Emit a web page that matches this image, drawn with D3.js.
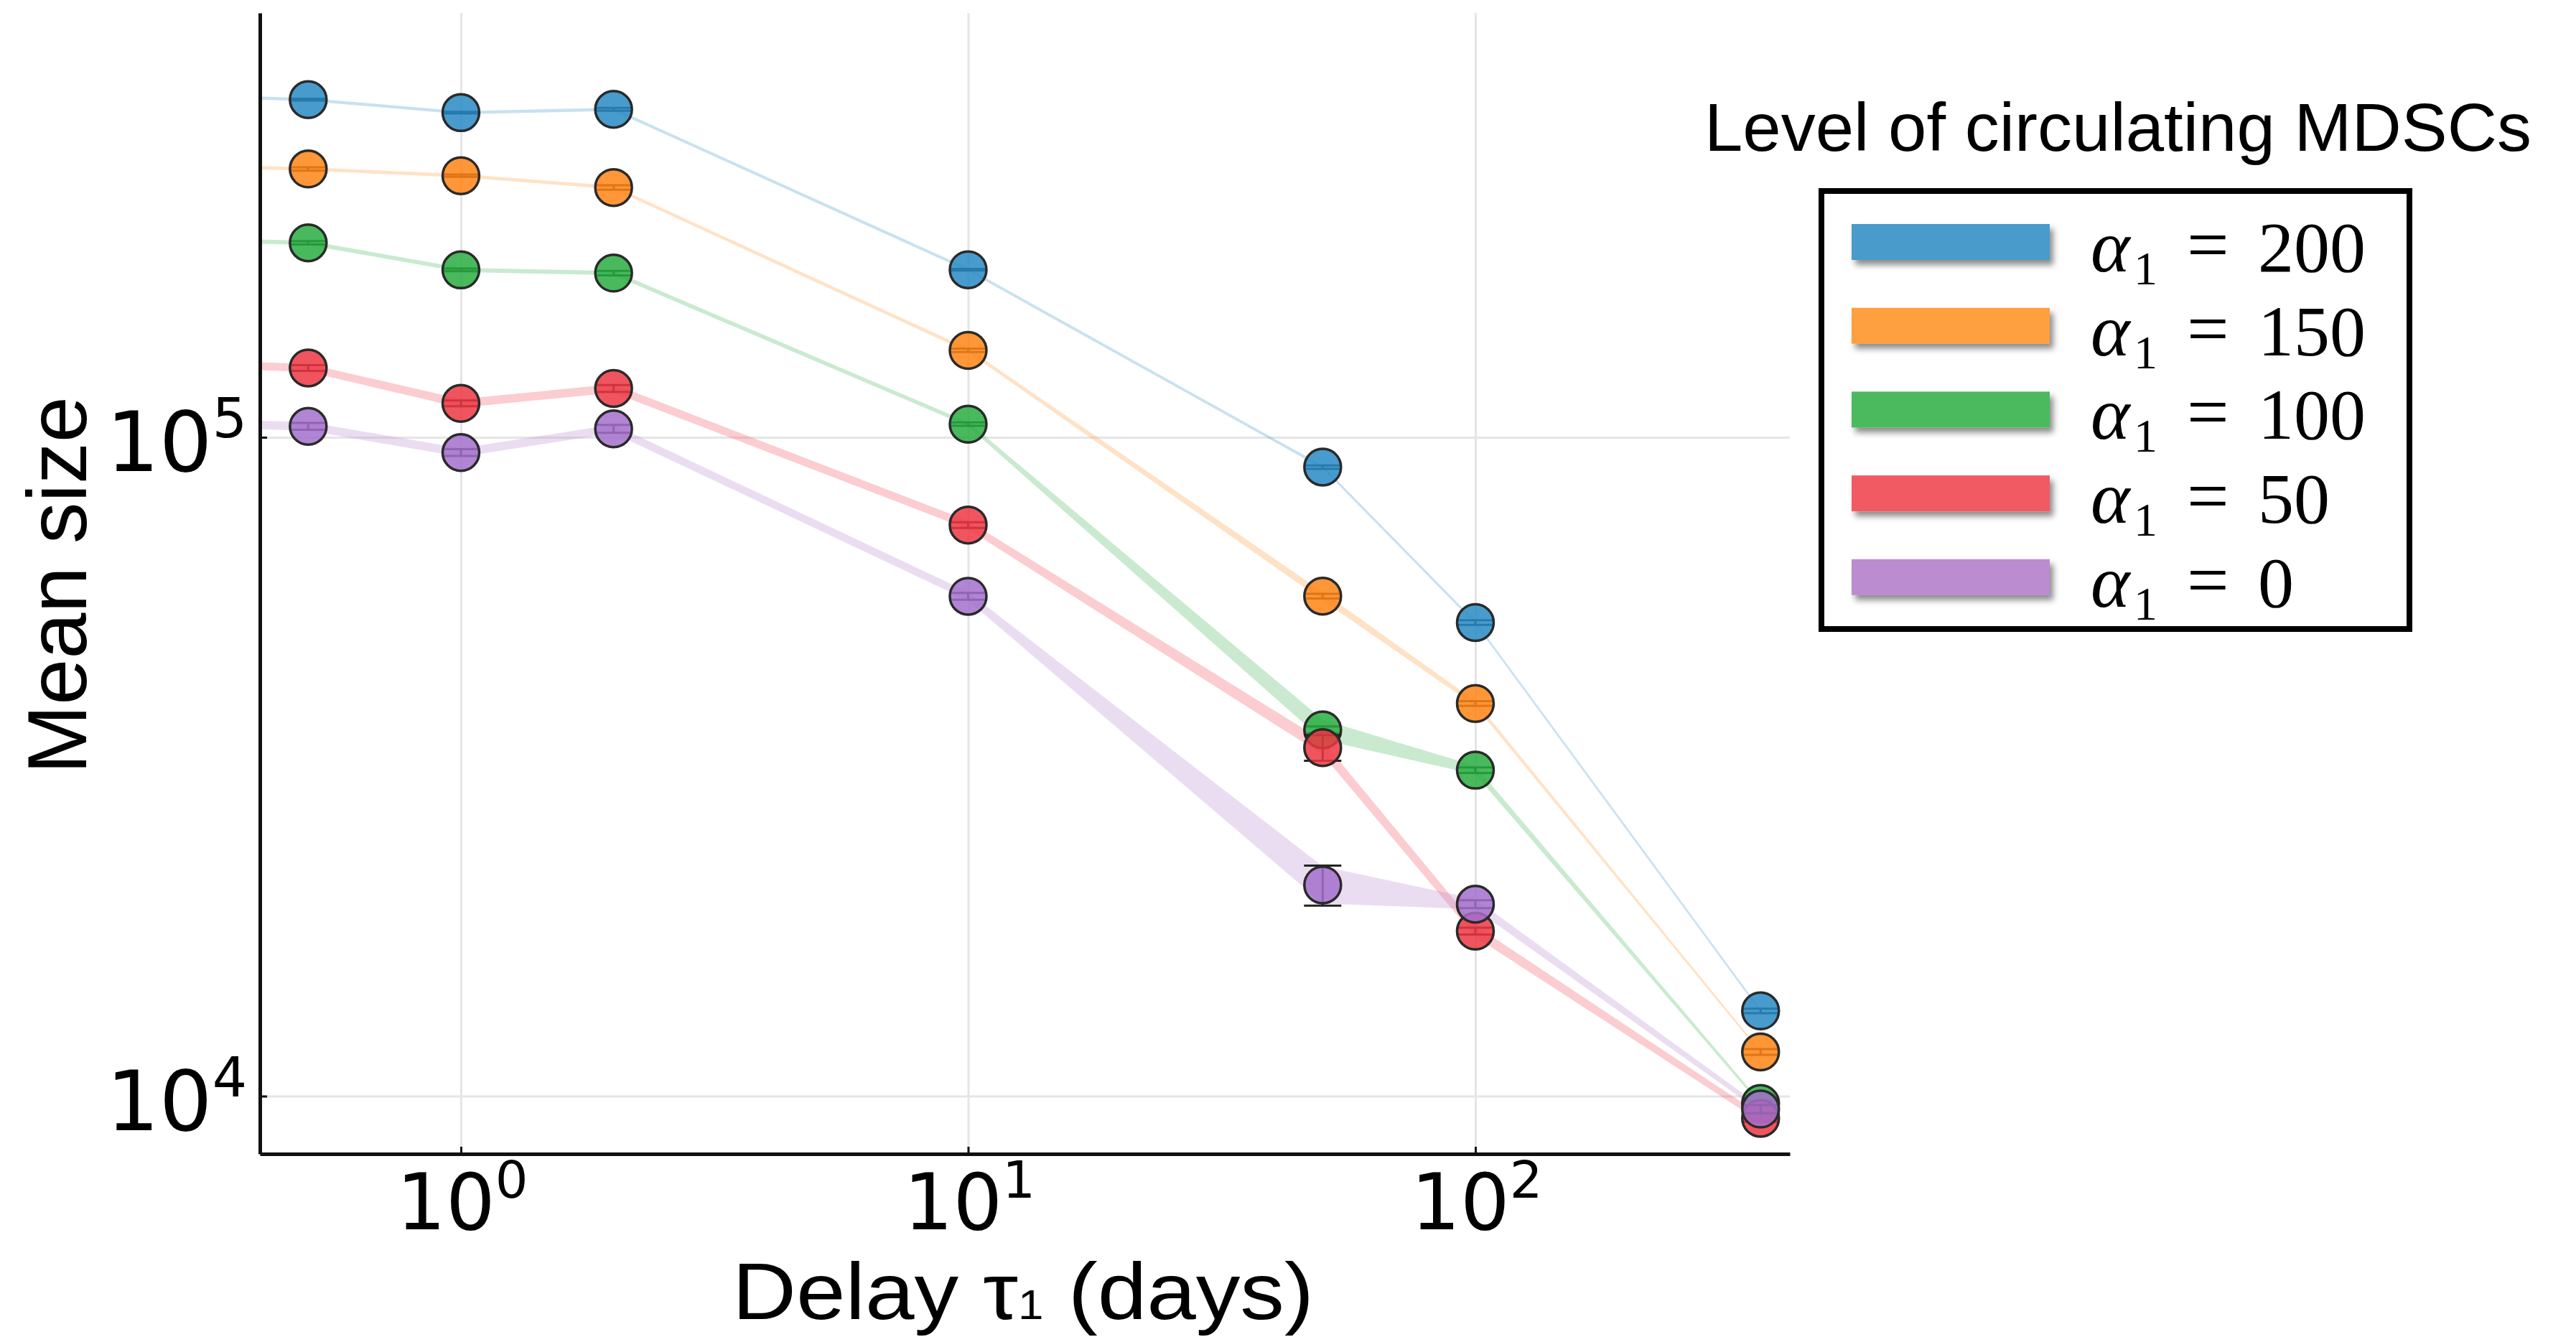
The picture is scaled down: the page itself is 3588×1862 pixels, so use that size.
<!DOCTYPE html>
<html>
<head>
<meta charset="utf-8">
<script src="https://cdn.jsdelivr.net/npm/d3@7"></script>
<style>
  html, body { margin: 0; padding: 0; background: #fff; }
  svg { display: block; }
</style>
</head>
<body>
<div id="chart"></div>
<script>
// delays (days); 0.25 sits left of the axis, only its line shows
var taus = [0.25, 0.5, 1, 2, 10, 50, 100, 365];

var seriesNames = ["200", "150", "100", "50", "0"];
var seriesColors = ["#4A9BCB", "#FE9F41", "#4BBA5E", "#F25A64", "#BB8DD0"];
var markerColors = ["#2889c4", "#ff8414", "#28ad3f", "#ed3743", "#a46ecc"];

// mean size for each alpha_1
var size200 = [331000, 325500, 311000, 314600, 179600, 90100, 52330, 13470];
var size150 = [259000, 255400, 249500, 239400, 135500, 57400, 39440, 11670];
var size100 = [200000, 197300, 179500, 177500, 104700, 35970, 31240, 9745];
var size50  = [130000, 127400, 112600, 118600, 73600, 33800, 17800, 9251];
var size0   = [105500, 103900, 94800, 103000, 57370, 20920, 19560, 9557];

// relative spread of the shaded band
var band200 = [0.0055, 0.0055, 0.0055, 0.0055, 0.0055, 0.0055, 0.0055, 0.0055];
var band150 = [0.006, 0.006, 0.006, 0.006, 0.0065, 0.015, 0.009, 0.005];
var band100 = [0.0075, 0.0075, 0.0075, 0.0075, 0.0075, 0.036, 0.015, 0.006];
var band50  = [0.014, 0.014, 0.015, 0.015, 0.015, 0.025, 0.02, 0.0125];
var band0   = [0.015, 0.015, 0.015, 0.015, 0.015, 0.067, 0.018, 0.01];

// relative error bars
var err200 = [0.003, 0.003, 0.003, 0.005, 0.003, 0.006, 0.008, 0.008];
var err150 = [0.006, 0.006, 0.004, 0.008, 0.006, 0.008, 0.008, 0.01];
var err100 = [0.006, 0.006, 0.005, 0.008, 0.006, 0.012, 0.01, 0.01];
var err50  = [0.01, 0.01, 0.01, 0.012, 0.01, 0.045, 0.012, 0.012];
var err0   = [0.012, 0.012, 0.012, 0.014, 0.012, 0.07, 0.014, 0.014];

var xTicks = [1, 10, 100];
var xTickExp = ["0", "1", "2"];
var yTicks = [1e4, 1e5];
var yTickExp = ["4", "5"];

var sizes = [size200, size150, size100, size50, size0];
var bands = [band200, band150, band100, band50, band0];
var errs = [err200, err150, err100, err50, err0];

var svgWidth = 3588, svgHeight = 1862;
var margin = {top: 18, left: 362, right: 3588 - 2493, bottom: 1862 - 1607};
var width = svgWidth - margin.left - margin.right;
var height = svgHeight - margin.top - margin.bottom;

var svg = d3.select("#chart").append("svg")
  .attr("width", svgWidth)
  .attr("height", svgHeight);

var defs = svg.append("defs");
defs.append("clipPath").attr("id", "plotclip")
  .append("rect").attr("x", 0).attr("y", 0).attr("width", width).attr("height", height);
var shadow = defs.append("filter").attr("id", "shadow")
  .attr("x", "-20%").attr("y", "-50%").attr("width", "140%").attr("height", "220%");
shadow.append("feDropShadow")
  .attr("dx", 5).attr("dy", 7).attr("stdDeviation", 4)
  .attr("flood-color", "#000").attr("flood-opacity", 0.45);

var chartGroup = svg.append("g")
  .attr("transform", `translate(${margin.left}, ${margin.top})`);

// log scales
var xScale = d3.scaleLog()
  .domain([Math.pow(10, -0.3963), Math.pow(10, 2.620)])
  .range([0, width]);
var yScale = d3.scaleLog()
  .domain([Math.pow(10, 3.9123), Math.pow(10, 5.6441)])
  .range([height, 0]);

// grid
chartGroup.append("g")
  .attr("class", "grid")
  .attr("transform", `translate(0, ${height})`)
  .call(d3.axisBottom(xScale).tickValues(xTicks).tickSize(-height).tickFormat(""));
chartGroup.append("g")
  .attr("class", "grid")
  .call(d3.axisLeft(yScale).tickValues(yTicks).tickSize(-width).tickFormat(""));
chartGroup.selectAll(".grid .domain").remove();
chartGroup.selectAll(".grid line").attr("stroke", "#e5e5e5").attr("stroke-width", 3);

// bands
var bandGroup = chartGroup.append("g").attr("clip-path", "url(#plotclip)");
sizes.forEach(function(vals, s) {
  var pts = taus.map(function(t, i) { return {t: t, v: vals[i], b: bands[s][i]}; });
  var area = d3.area()
    .x(d => xScale(d.t))
    .y0(d => yScale(d.v / (1 + d.b)))
    .y1(d => yScale(d.v * (1 + d.b)));
  bandGroup.append("path")
    .datum(pts)
    .attr("d", area)
    .attr("fill", seriesColors[s])
    .attr("fill-opacity", 0.3);
});

// error bars and markers
var xMin = xScale.domain()[0];
sizes.forEach(function(vals, s) {
  var pts = taus.map(function(t, i) { return {t: t, v: vals[i], e: errs[s][i]}; })
    .filter(d => d.t >= xMin);
  var g = chartGroup.append("g");
  var eb = g.selectAll(".eb").data(pts).enter().append("g")
    .attr("stroke", "#222").attr("stroke-width", 3);
  eb.append("line")
    .attr("x1", d => xScale(d.t)).attr("x2", d => xScale(d.t))
    .attr("y1", d => yScale(d.v * (1 + d.e))).attr("y2", d => yScale(d.v * (1 - d.e)));
  eb.append("line")
    .attr("x1", d => xScale(d.t) - 26).attr("x2", d => xScale(d.t) + 26)
    .attr("y1", d => yScale(d.v * (1 + d.e))).attr("y2", d => yScale(d.v * (1 + d.e)));
  eb.append("line")
    .attr("x1", d => xScale(d.t) - 26).attr("x2", d => xScale(d.t) + 26)
    .attr("y1", d => yScale(d.v * (1 - d.e))).attr("y2", d => yScale(d.v * (1 - d.e)));
  g.selectAll("circle").data(pts).enter().append("circle")
    .attr("cx", d => xScale(d.t))
    .attr("cy", d => yScale(d.v))
    .attr("r", 25.5)
    .attr("fill", markerColors[s])
    .attr("fill-opacity", 0.85)
    .attr("stroke", "#2a2a2a")
    .attr("stroke-width", 3.5);
});

// axes
var xAxis = d3.axisBottom(xScale).tickValues(xTicks).tickSizeInner(-10).tickSizeOuter(0).tickFormat("");
var yAxis = d3.axisLeft(yScale).tickValues(yTicks).tickSizeInner(-10).tickSizeOuter(0).tickFormat("");
var gx = chartGroup.append("g").attr("transform", `translate(0, ${height})`).call(xAxis);
var gy = chartGroup.append("g").call(yAxis);
[gx, gy].forEach(function(g) {
  g.select(".domain").attr("stroke", "#111").attr("stroke-width", 5);
  g.selectAll(".tick line").attr("stroke", "#111").attr("stroke-width", 3);
});

// tick labels with exponents
xTicks.forEach(function(t, i) {
  var txt = chartGroup.append("text")
    .attr("x", xScale(t) + 2)
    .attr("y", height + 105)
    .attr("text-anchor", "middle")
    .attr("font-family", "DejaVu Sans")
    .attr("font-size", 108)
    .attr("fill", "#000");
  txt.append("tspan").text("10");
  txt.append("tspan").attr("font-size", 72).attr("dy", -44).text(xTickExp[i]);
});
yTicks.forEach(function(t, i) {
  var txt = chartGroup.append("text")
    .attr("x", -18)
    .attr("y", yScale(t) + 47)
    .attr("text-anchor", "end")
    .attr("font-family", "DejaVu Sans")
    .attr("font-size", 116)
    .attr("fill", "#000");
  txt.append("tspan").text("10");
  txt.append("tspan").attr("font-size", 76).attr("dy", -47).text(yTickExp[i]);
});

// axis titles
svg.append("text")
  .attr("transform", "translate(120, 815) rotate(-90)")
  .attr("text-anchor", "middle")
  .attr("font-family", "Liberation Sans")
  .attr("font-size", 116)
  .attr("textLength", 526)
  .attr("lengthAdjust", "spacingAndGlyphs")
  .text("Mean size");

var xt = svg.append("text")
  .attr("x", 1020)
  .attr("y", 1837)
  .attr("font-family", "Liberation Sans")
  .attr("font-size", 112)
  .attr("textLength", 810)
  .attr("lengthAdjust", "spacingAndGlyphs");
xt.append("tspan").text("Delay τ");
xt.append("tspan").attr("font-size", 58).text("1");
xt.append("tspan").text(" (days)");

// legend
svg.append("text")
  .attr("x", 2374)
  .attr("y", 210)
  .attr("font-family", "Liberation Sans")
  .attr("font-size", 94)
  .attr("textLength", 1152)
  .attr("lengthAdjust", "spacingAndGlyphs")
  .text("Level of circulating MDSCs");

var legend = svg.append("g");
legend.append("rect")
  .attr("x", 2537).attr("y", 266)
  .attr("width", 819).attr("height", 610)
  .attr("fill", "#fff")
  .attr("stroke", "#000")
  .attr("stroke-width", 8);

seriesNames.forEach(function(name, i) {
  var top = 312 + i * 116.7;
  legend.append("rect")
    .attr("x", 2579).attr("y", top)
    .attr("width", 276).attr("height", 50)
    .attr("fill", seriesColors[i])
    .attr("filter", "url(#shadow)");
  var base = top + 66;
  legend.append("text")
    .attr("x", 2912).attr("y", base)
    .attr("font-family", "Liberation Serif")
    .attr("font-style", "italic")
    .attr("font-size", 104)
    .text("α");
  legend.append("text")
    .attr("x", 2972).attr("y", base + 18)
    .attr("font-family", "Liberation Serif")
    .attr("font-size", 66)
    .text("1");
  legend.append("text")
    .attr("x", 3046).attr("y", base - 2)
    .attr("font-family", "Liberation Serif")
    .attr("font-size", 104)
    .text("=");
  legend.append("text")
    .attr("x", 3145).attr("y", base)
    .attr("font-family", "Liberation Serif")
    .attr("font-size", 100)
    .text(name);
});
</script>
</body>
</html>
